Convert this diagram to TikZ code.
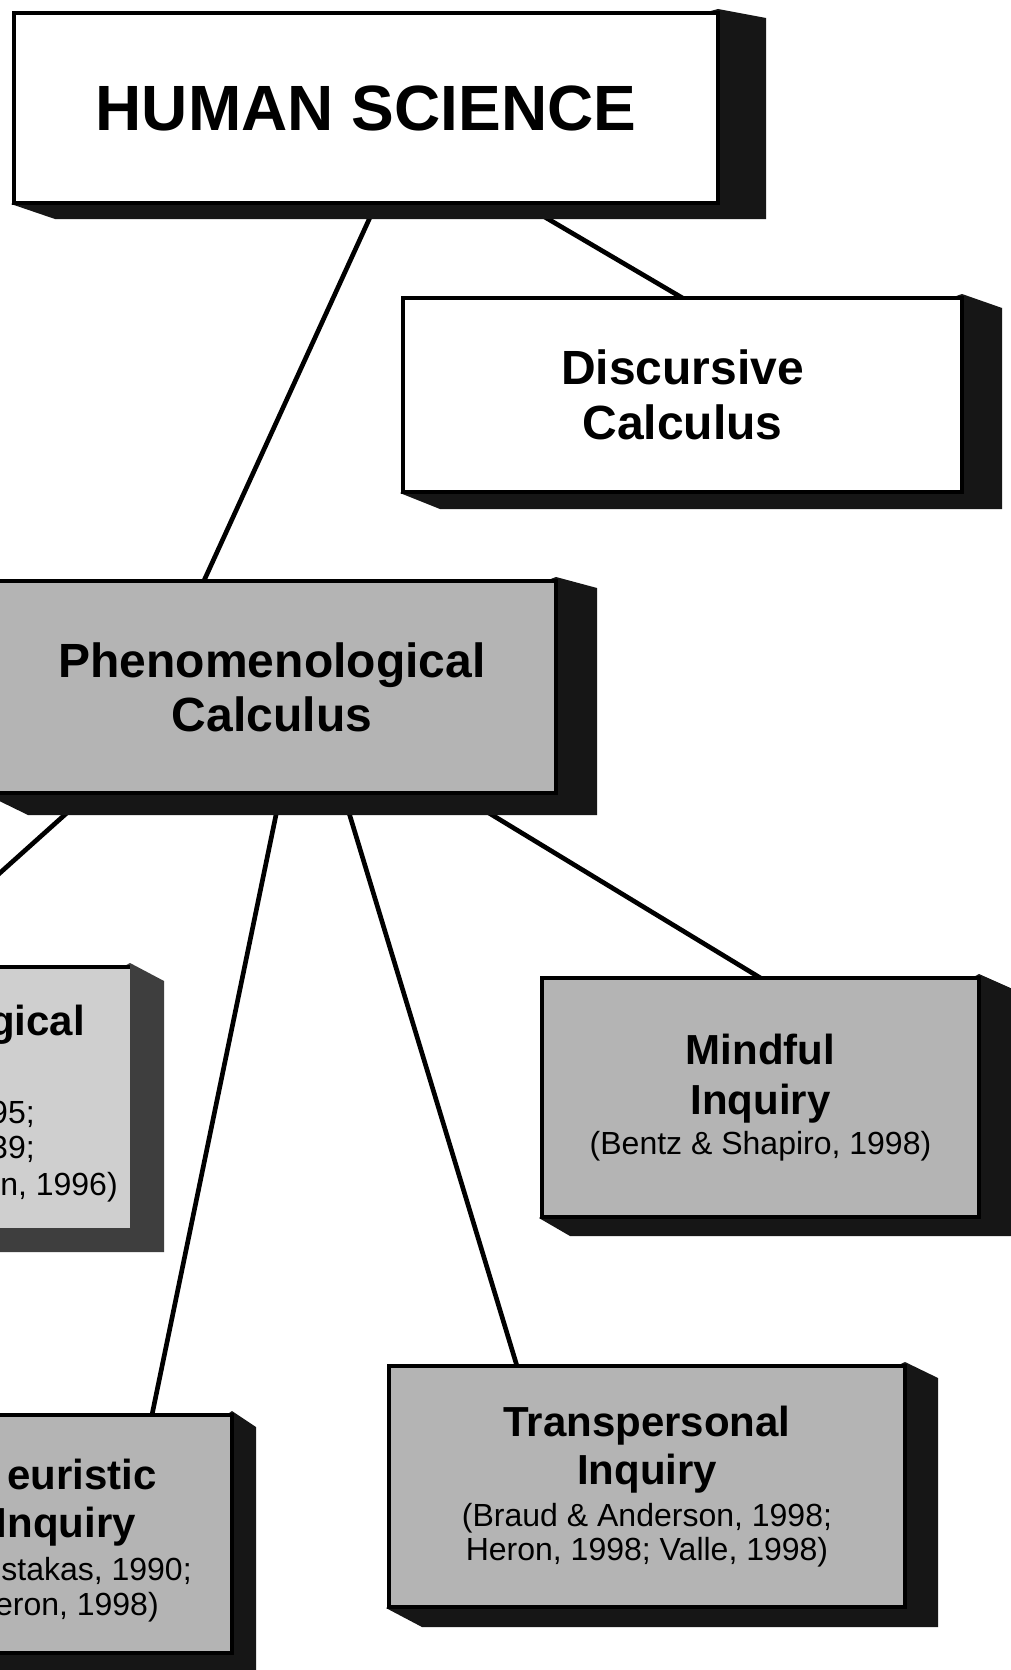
\documentclass[tikz,border=0pt]{standalone}
\usepackage{fontspec}
\setmainfont{Liberation Sans}
\usetikzlibrary{calc}
\pgfdeclarelayer{lines}
\pgfdeclarelayer{shade}
\pgfsetlayers{lines,shade,main}
\definecolor{facegray}{HTML}{B4B4B4}
\definecolor{lightface}{HTML}{CFCFCF}
\definecolor{shadowcol}{HTML}{161616}
\definecolor{greyshadow}{HTML}{3E3E3E}
\newcommand\pxl[1]{#1*0.75pt}
\newcommand\citefont{\fontsize{24}{26}\selectfont\mdseries}
\newcommand\boldfont{\fontsize{31.5}{36}\selectfont\bfseries}
\newcommand\dropshade[6]{%
  \begin{pgfonlayer}{shade}
  \fill[#6] ($(#1.north east)+(0,-4)$) -- ($(#1.north east)+(#2,#3)$)
     -- ($(#1.south east)+(#2,#4)$) -- ($(#1.south west)+(#5,#4)$)
     -- ($(#1.south west)+(-3,1)$) -- cycle;
  \end{pgfonlayer}}
\begin{document}
\begin{tikzpicture}[x=0.75pt,y=-0.75pt,
  face/.style={draw=black, line width=2.5pt, fill=facegray, inner sep=0pt,
    outer sep=0pt, anchor=north west, align=center,
    font=\fontsize{31.5}{37.5}\selectfont\bfseries},
  whiteface/.style={face, fill=white, line width=3pt},
  conn/.style={line width=3.5pt},
  frag/.style={inner sep=0pt, anchor=base east}]
\useasboundingbox (0,0) rectangle (1010,1670);
\clip (0,0) rectangle (1010,1670);

% boxes
\node[whiteface, minimum width=\pxl{704}, minimum height=\pxl{190},
  font=\fontsize{48}{56}\selectfont\bfseries] (hs) at (14,13) {HUMAN SCIENCE};
\node[whiteface, minimum width=\pxl{559}, minimum height=\pxl{194},
  font=\fontsize{36}{41}\selectfont\bfseries] (dc) at (403,298) {Discursive\\Calculus};
\node[face, minimum width=\pxl{568}, minimum height=\pxl{212},
  font=\fontsize{36}{40.5}\selectfont\bfseries] (ph) at (-12,581) {Phenomenological\\Calculus};
\node[face, draw=none, fill=lightface, minimum width=\pxl{470},
  minimum height=\pxl{261}] (lb) at (-340,967) {};
\draw[line width=2.5pt] (lb.north west) -- (lb.north east);
\node[face, minimum width=\pxl{437}, minimum height=\pxl{239}] (mi) at (542,978)
  {Mindful\\Inquiry\\[-7.5pt]{\citefont (Bentz \& Shapiro, 1998)}};
\node[face, minimum width=\pxl{516}, minimum height=\pxl{241},
  font=\fontsize{31.5}{36}\selectfont\bfseries] (tr) at (389,1366)
  {Transpersonal\\Inquiry\\[-4.5pt]{\citefont (Braud \& Anderson, 1998;}\\[-10pt]{\citefont Heron, 1998; Valle, 1998)}};
\node[face, minimum width=\pxl{342}, minimum height=\pxl{238}] (he) at (-110,1415) {};

% visible text fragments of the cut-off boxes
\node[frag, font=\boldfont] (lbA) at (85,1035) {gical};
\node[frag, font=\citefont] (lbB) at (35,1123) {95;};
\node[frag, font=\citefont] (lbC) at (35,1158) {39;};
\node[frag, font=\citefont] (lbD) at (118,1195) {n, 1996)};
\node[frag, font=\boldfont] (heA) at (157,1489) {euristic};
\node[frag, font=\boldfont] (heB) at (136,1537) {Inquiry};
\node[frag, font=\citefont] (heC) at (192,1580) {ustakas, 1990;};
\node[frag, font=\citefont] (heD) at (159,1615) {eron, 1998)};

% extruded shadows
\dropshade{hs}{48}{5}{16}{41}{shadowcol}
\dropshade{dc}{40}{10}{17}{37}{shadowcol}
\dropshade{ph}{41}{7}{22}{40}{shadowcol}
\dropshade{lb}{34}{14}{24}{40}{greyshadow}
\dropshade{mi}{36}{12}{19}{28}{shadowcol}
\dropshade{tr}{33}{12}{20}{33}{shadowcol}
\dropshade{he}{24}{12}{30}{30}{shadowcol}

% connectors
\begin{pgfonlayer}{lines}
\fill[white] (0,0) rectangle (1010,1670);
\draw[conn] ($(hs.south west)!0.515!(hs.south east)$) -- ($(ph.north west)!0.380!(ph.north east)$);
\draw[conn] ($(hs.south west)!0.72!(hs.south east)$) -- (dc.north);
\draw[conn] ($(ph.south west)!0.178!(ph.south east)$) -- (lb.north);
\draw[conn] ($(ph.south west)!0.515!(ph.south east)$) -- ($(he.north west)!0.766!(he.north east)$);
\draw[conn] ($(ph.south west)!0.625!(ph.south east)$) -- ($(tr.north west)!0.248!(tr.north east)$);
\draw[conn] ($(ph.south west)!0.824!(ph.south east)$) -- (mi.north);
\end{pgfonlayer}
\end{tikzpicture}
\end{document}
